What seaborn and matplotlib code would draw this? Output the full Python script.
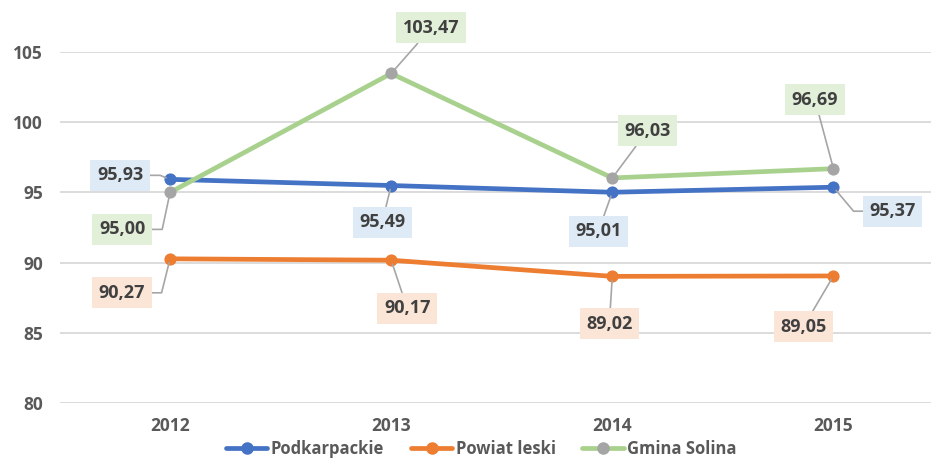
import matplotlib
matplotlib.use("Agg")
import matplotlib.pyplot as plt
from matplotlib.lines import Line2D
import seaborn as sns
import pandas as pd

years = ["2012", "2013", "2014", "2015"]
podkarpackie = [95.93, 95.49, 95.01, 95.37]
powiat_leski = [90.27, 90.17, 89.02, 89.05]
gmina_solina = [95.00, 103.47, 96.03, 96.69]
series_names = ["Podkarpackie", "Powiat leski", "Gmina Solina"]
y_ticks = [80, 85, 90, 95, 100, 105]

sns.set_theme(style="white")
plt.rcParams['font.family'] = ['Open Sans', 'DejaVu Sans']

line_colors = ["#4472C4", "#ED7D31", "#A9D18E"]
marker_colors = ["#4472C4", "#ED7D31", "#A5A5A5"]
box_colors = ["#DEEBF7", "#FBE5D6", "#E2F0D9"]

fig = plt.figure(figsize=(9.31, 4.66), dpi=100)
ax = fig.add_axes([59.5 / 931, 63 / 466, (944 - 59.5) / 931, (403 - 52) / 466])

xs = list(range(len(years)))
all_vals = [podkarpackie, powiat_leski, gmina_solina]
for name, vals, lc, mc in zip(series_names, all_vals, line_colors, marker_colors):
    df = pd.DataFrame({"x": xs, "y": vals})
    sns.lineplot(data=df, x="x", y="y", ax=ax, color=lc, lw=3.4, marker="o",
                 markersize=8, markerfacecolor=mc, markeredgecolor=mc, zorder=3)

ax.set_xlim(-0.5, 3.5)
ax.set_ylim(80, 105)
ax.set_yticks(y_ticks)
ax.set_yticklabels([str(t) for t in y_ticks])
ax.set_xticks(xs)
ax.set_xticklabels(years)
ax.grid(axis="y", color="#D9D9D9", lw=1.3)
ax.set_axisbelow(True)
for s in ax.spines.values():
    s.set_visible(False)
ax.tick_params(axis="both", length=0, labelsize=12.5, labelcolor="#595959")
for lab in ax.get_xticklabels() + ax.get_yticklabels():
    lab.set_fontweight("bold")
ax.tick_params(axis="y", pad=12)
ax.tick_params(axis="x", pad=10)
ax.set_xlabel("")
ax.set_ylabel("")

# label offsets (pixels), leader start point on box, leader connection style
offsets = {
    (0, 0): (-50, 4, (1, 0.5), "angle,angleA=0,angleB=158,rad=0"),
    (0, 1): (-48, -34, (1, 0.5), "angle,angleA=0,angleB=-104,rad=0"),
    (0, 2): (-48, -37, (1, 0.5), "angle,angleA=0,angleB=-102,rad=0"),
    (1, 0): (-9, -36.5, None, "arc3"),
    (1, 1): (16, -48, None, "arc3"),
    (1, 2): (40, 45.5, None, "arc3"),
    (2, 0): (-14, -39, None, "arc3"),
    (2, 1): (-3, -47.5, None, "arc3"),
    (2, 2): (35, 47, None, "arc3"),
    (3, 0): (59, -24, (0, 0.5), "angle,angleA=0,angleB=-50,rad=0"),
    (3, 1): (-30, -51, None, "arc3"),
    (3, 2): (-18.5, 69, None, "arc3"),
}

for si, vals in enumerate(all_vals):
    for xi, v in enumerate(vals):
        dx, dy, relpos, cstyle = offsets[(xi, si)]
        txt = f"{v:.2f}".replace(".", ",")
        ap = dict(arrowstyle="-", color="#A6A6A6", lw=1.2, shrinkA=0, shrinkB=3,
                  connectionstyle=cstyle)
        if relpos is not None:
            ap["relpos"] = relpos
        ax.annotate(txt, xy=(xi, v), xytext=(dx, dy), textcoords="offset pixels",
                    ha="center", va="center", fontsize=13, fontweight="bold",
                    color="#404040", zorder=5, annotation_clip=False,
                    bbox=dict(boxstyle="square,pad=0.36", fc=box_colors[si], ec="none"),
                    arrowprops=ap)

handles = [Line2D([0], [0], color=lc, lw=3.4, marker="o", markersize=8,
                  markerfacecolor=mc, markeredgecolor=mc)
           for lc, mc in zip(line_colors, marker_colors)]
leg = fig.legend(handles, series_names, loc="lower center", bbox_to_anchor=(0.517, -0.015),
                 ncol=3, frameon=False, fontsize=12, handlelength=2.5,
                 handletextpad=0.2, columnspacing=1.6)
for t in leg.get_texts():
    t.set_color("#595959")
    t.set_fontweight("bold")

fig.savefig("out.png", dpi=100)
